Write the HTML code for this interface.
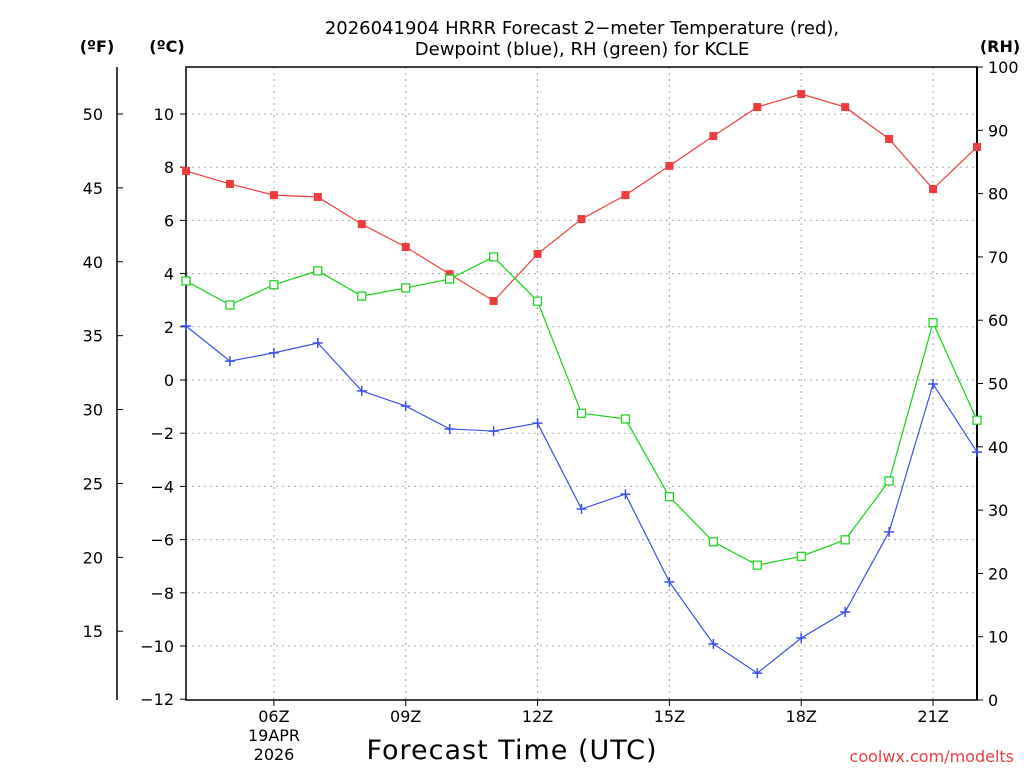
<!DOCTYPE html>
<html><head><meta charset="utf-8"><style>
body{margin:0;background:#fff;width:1024px;height:768px;overflow:hidden;font-family:"Liberation Sans",sans-serif}
svg text{font-family:"DejaVu Sans","Liberation Sans",sans-serif}
</style></head><body>
<svg id="c" width="1024" height="768"></svg>
<script>
const hours=[4,5,6,7,8,9,10,11,12,13,14,15,16,17,18,19,20,21,22];
const tempC=[7.86,7.37,6.95,6.88,5.86,5.0,3.98,2.97,4.74,6.05,6.95,8.05,9.17,10.26,10.75,10.26,9.06,7.18,8.76];
const dewC=[2.03,0.71,1.02,1.39,-0.41,-0.98,-1.84,-1.92,-1.62,-4.85,-4.29,-7.59,-9.92,-11.02,-9.7,-8.72,-5.71,-0.15,-2.71];
const rh=[66.2,62.4,65.6,67.8,63.8,65.1,66.5,70.0,63.0,45.3,44.4,32.1,25.0,21.3,22.7,25.3,34.6,59.6,44.2];
const cTicks=[10,8,6,4,2,0,-2,-4,-6,-8,-10,-12];
const fTicks=[50,45,40,35,30,25,20,15];
const rhTicks=[0,10,20,30,40,50,60,70,80,90,100];
const xTicks=[6,9,12,15,18,21];
const L=186,R=977,T=67,B=700;
const xs=h=>L+(h-4)*(R-L)/18;
const yc=c=>380-c*26.6;
const yf=f=>yc((f-32)*5/9);
const yr=r=>B-r*(B-T)/100;
const svg=document.getElementById('c');
const NS='http://www.w3.org/2000/svg';
function el(tag,a,txt){const e=document.createElementNS(NS,tag);for(const k in a)e.setAttribute(k,a[k]);if(txt!=null)e.textContent=txt;svg.appendChild(e);return e;}
// grid
cTicks.forEach(c=>{if(c>-12){const g=el('line',{x1:L,x2:R,y1:yc(c),y2:yc(c),stroke:'#aaa','stroke-dasharray':'2,4'});

}});
xTicks.forEach(h=>{const g=el('line',{x1:xs(h),x2:xs(h),y1:T,y2:B,stroke:'#aaa','stroke-dasharray':'2,4'});

});
// frame
const fr=el('rect',{x:L,y:T,width:R-L,height:B-T,fill:'none',stroke:'#000','stroke-width':1.5});


el('line',{x1:R,x2:R,y1:T,y2:B,stroke:'#000','stroke-width':2});
el('line',{x1:117,x2:117,y1:T,y2:B,stroke:'#000','stroke-width':1.5});
// ticks
cTicks.forEach(c=>{el('line',{x1:L-6,x2:L,y1:yc(c),y2:yc(c),stroke:'#000'});
const t=el('text',{x:L-12,y:yc(c)+6,'text-anchor':'end','font-size':16},String(c).replace('-','\u2212'));

});
fTicks.forEach(f=>{el('line',{x1:117,x2:123,y1:yf(f),y2:yf(f),stroke:'#000'});
const t=el('text',{x:103,y:yf(f)+6,'text-anchor':'end','font-size':16},f);

});
rhTicks.forEach(r=>{el('line',{x1:R,x2:R+6,y1:yr(r),y2:yr(r),stroke:'#000'});
const t=el('text',{x:988,y:yr(r)+6,'font-size':16},r);

});
xTicks.forEach(h=>{el('line',{x1:xs(h),x2:xs(h),y1:B,y2:B+6,stroke:'#000'});
const t=el('text',{x:xs(h),y:722,'text-anchor':'middle','font-size':16},(h<10?'0':'')+h+'Z');

});
[['19APR',741],['2026',760]].forEach(([s,y])=>{const t=el('text',{x:274,y:y,'text-anchor':'middle','font-size':16},s);

});
// series
function series(vals,yf2,color,mk,name){
const pts=vals.map((v,i)=>[xs(hours[i]),yf2(v)]);
const p=el('polyline',{points:pts.map(p=>p.join(',')).join(' '),fill:'none',stroke:color,'stroke-width':1.2});


pts.forEach(([x,y])=>{let m;
if(mk==='fill')m=el('rect',{x:x-4,y:y-4,width:8,height:8,fill:color});
else if(mk==='open')m=el('rect',{x:x-4,y:y-4,width:8,height:8,fill:'#fff',stroke:color,'stroke-width':1.2});
else m=el('path',{d:`M${x-5},${y}H${x+5}M${x},${y-5}V${y+5}`,stroke:color,'stroke-width':1.5});

});}
series(tempC,yc,'#f03c3c','fill','temperature');
series(dewC,yc,'#3c50f0','plus','dewpoint');
series(rh,yr,'#14d214','open','rh');
// titles
[['2026041904 HRRR Forecast 2\u2212meter Temperature (red),',34],['Dewpoint (blue), RH (green) for KCLE',55]].forEach(([s,y])=>{const t=el('text',{x:582,y:y,'text-anchor':'middle','font-size':18},s);

});
[['(ºF)',97],['(ºC)',167],['(RH)',1000]].forEach(([s,x])=>{const t=el('text',{x:x,y:52,'text-anchor':'middle','font-size':16,'font-weight':'bold'},s);

});
const xt=el('text',{x:512,y:759,'text-anchor':'middle','font-size':27,'letter-spacing':'1'},'Forecast Time (UTC)');


const cr=el('text',{x:1014,y:762,'text-anchor':'end','font-size':16,fill:'#f03c3c'},'coolwx.com/modelts');


</script>
</body></html>
